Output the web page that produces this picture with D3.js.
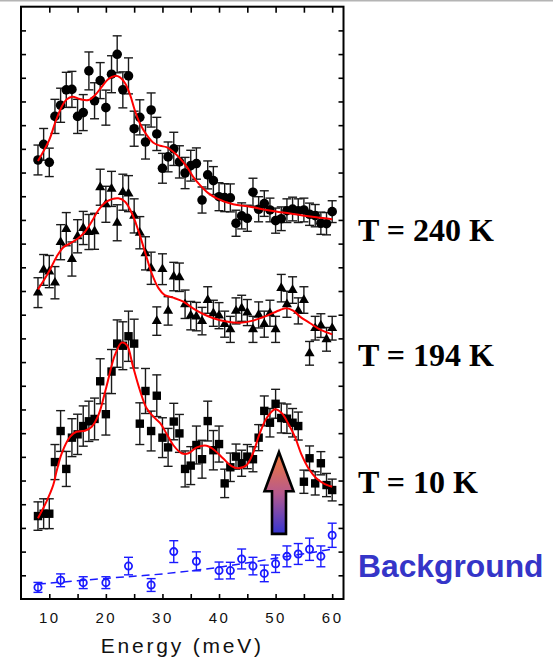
<!DOCTYPE html>
<html>
<head>
<meta charset="utf-8">
<script src="https://cdn.jsdelivr.net/npm/d3@7"></script>
<style>
  html, body { margin: 0; padding: 0; background: #fff; }
  svg { display: block; }
</style>
</head>
<body>
<svg id="chart" width="553" height="658"></svg>
<script>
// ---------------- DATA ----------------
const energies = [8,9,10,11,12,13,14,15,16,17,18,19,20,21,22,23,24,25,26,27,28,29,30,31,32,33,34,
  35,36,37,38,39,40,41,42,43,44,45,46,47,48,49,50,51,52,53,54,55,56,57,58,59,60];

const s240 = [18.53,19.19,18.43,20.37,20.84,21.49,21.51,20.37,20.53,22.29,21.03,21.88,20.74,22.15,22.99,21.49,22.08,
  19.85,20.33,19.29,20.64,19.63,18.18,18.66,19.0,18.45,17.98,18.29,18.38,16.84,17.90,17.66,16.98,16.94,16.93,
  15.86,16.17,16.07,17.17,16.45,16.69,16.42,15.97,16.05,16.39,16.46,16.39,16.42,16.24,16.18,15.86,15.84,16.35];
const e240 = [0.63,0.67,0.6,0.72,0.72,0.74,0.76,0.72,0.76,0.8,0.76,0.76,0.74,0.78,0.78,0.76,0.76,
  0.74,0.74,0.72,0.72,0.7,0.63,0.63,0.7,0.68,0.66,0.65,0.66,0.55,0.59,0.59,0.59,0.59,0.59,
  0.55,0.55,0.55,0.59,0.53,0.54,0.5,0.53,0.5,0.5,0.5,0.5,0.5,0.47,0.47,0.47,0.47,0.46];

const s194 = [12.93,13.89,13.82,13.35,15.06,15.61,14.35,15.31,15.66,15.49,15.52,17.38,16.66,17.31,15.88,17.17,17.11,
  16.17,15.46,14.59,13.96,11.73,13.92,12.16,13.61,13.58,12.44,11.96,11.92,11.73,12.62,12.06,11.96,11.6,11.38,
  12.16,12.27,12.09,11.38,11.99,11.6,12.06,11.38,13.12,12.44,13.04,12.16,12.62,10.37,11.43,11.54,10.96,11.43];
const e194 = [0.63,0.65,0.68,0.68,0.74,0.7,0.72,0.7,0.7,0.74,0.76,0.76,0.76,0.74,0.76,0.76,0.76,
  0.72,0.68,0.7,0.68,0.6,0.65,0.6,0.6,0.6,0.6,0.6,0.6,0.58,0.56,0.55,0.55,0.55,0.55,
  0.55,0.55,0.55,0.55,0.55,0.55,0.55,0.55,0.58,0.55,0.56,0.55,0.56,0.5,0.5,0.5,0.5,0.5];

const s10 = [3.5,3.6,3.6,5.78,7.09,5.49,6.81,6.95,7.3,7.5,7.6,9.19,7.8,9.6,10.78,10.69,11.09,
  10.78,7.4,8.78,7.09,8.58,6.81,6.4,7.49,6.99,5.49,5.63,6.5,5.9,7.51,6.28,6.54,4.88,5.56,
  6.01,5.73,6.01,5.9,6.81,7.94,7.44,8.24,7.64,7.61,7.44,7.3,4.95,5.94,4.88,5.73,4.81,4.6];
const e10 = [0.6,0.63,0.63,0.74,0.86,0.74,0.8,0.85,0.85,0.85,0.88,0.95,0.88,0.93,1.0,1.01,1.06,
  1.03,0.88,0.95,0.84,0.88,0.84,0.8,0.77,0.8,0.76,0.8,0.8,0.8,0.84,0.83,0.76,0.6,0.6,
  0.53,0.55,0.51,0.53,0.55,0.63,0.6,0.61,0.63,0.62,0.6,0.59,0.49,0.52,0.49,0.49,0.49,0.46];

const bgE   = [8,12,16,20,24,28,32,36,40,42,44,46,48,50,52,54,56,58,60];
const bgV   = [0.49,0.79,0.69,0.69,1.39,0.59,2.0,1.59,1.2,1.2,1.69,1.39,1.08,1.49,1.8,1.9,2.1,1.8,2.69];
const bgErr = [0.21,0.27,0.25,0.25,0.37,0.27,0.46,0.4,0.36,0.35,0.42,0.37,0.35,0.37,0.44,0.44,0.47,0.44,0.51];

// fitted curves
const fit240E = [8,10,11,12.2,13.1,14.1,15.4,16.9,18.1,19.3,20.4,21.6,22.5,23.4,24.3,25.1,26,27.2,28.4,29.6,30.7,
  31.9,33.1,34.3,35.4,36.6,38.1,39.6,42.5,45.5,48.4,51.3,54.3,57.2,60];
const fit240V = [18.49,19.38,20.08,20.78,21.09,21.2,21.1,21.06,21.27,21.63,21.94,22.08,22.02,21.77,21.27,20.64,20.08,
  19.59,19.26,19.13,19.07,18.88,18.6,18.25,17.83,17.48,17.13,16.91,16.66,16.56,16.42,16.31,16.21,16.11,16.03];

const fit194E = [8,8.9,10.1,11.3,12.5,13.7,15.1,16.3,17.5,18.7,20.1,22.2,23.4,24.6,25.7,26.9,28.1,29.3,30.4,31.9,
  33.7,35.4,37.2,39,41.3,43.7,46,48.4,50.8,51.9,53.1,54.3,56.1,57.8,60];
const fit194V = [13.07,13.4,13.89,14.45,14.85,15.01,15.23,15.5,15.93,16.42,16.77,16.91,16.77,16.28,15.58,14.66,13.75,
  13.12,12.83,12.72,12.55,12.27,12.03,11.85,11.71,11.66,11.75,11.95,12.2,12.27,12.17,11.92,11.64,11.38,11.17];

const fit10E = [8,9.5,10.7,11.3,12.2,13.7,14.8,16.3,17.5,18.7,20.1,21.6,22.8,23.7,24.8,26,27.2,28.4,29.6,30.7,31.9,
  33.4,34.6,36,37.8,39.3,40.7,42.2,43.4,44.9,46,47.2,48.4,49.9,51.1,52.2,53.4,54.6,55.8,57.2,58.7,60];
const fit10V = [3.41,4.11,4.81,5.4,6.15,6.85,7.06,7.1,7.27,7.77,8.96,10.3,10.82,10.72,9.81,8.82,8.05,7.7,7.42,6.99,6.5,
  6.15,6.15,6.39,6.47,6.26,5.94,5.61,5.52,5.66,6.15,6.99,7.63,8.01,7.84,7.42,6.85,6.08,5.52,5.1,4.85,4.74];

const bgFitE = [8,20,30,40,50,60];
const bgFitV = [0.63,0.87,1.06,1.34,1.72,2.1];

const xTicks = [10,15,20,25,30,35,40,45,50,55,60];
const xTickLabels = [10,20,30,40,50,60];
const yTicks = [1,2,3,4,5,6,7,8,9,10,11,12,13,14,15,16,17,18,19,20,21,22,23,24];
const xTitle = "Energy (meV)";
const seriesLabels = ["T = 240 K","T = 194 K","T = 10 K","Background"];

// ---------------- CHART ----------------
const svg = d3.select("#chart");
const L = 21, R = 343.5, T = 6.7, B = 599;
const x = d3.scaleLinear().domain([5, 62]).range([L, R]);
const y = d3.scaleLinear().domain([0, 25]).range([B, T]);

// gray line at very top
svg.append("rect").attr("x",0).attr("y",0).attr("width",553).attr("height",1.5).attr("fill","#b4b4b4");

// axes
const gB = svg.append("g").attr("transform",`translate(0,${B})`)
  .call(d3.axisBottom(x).tickValues(xTicks).tickSize(-5).tickPadding(13)
    .tickFormat(d => xTickLabels.includes(d) ? d : ""));
const gT = svg.append("g").attr("transform",`translate(0,${T})`)
  .call(d3.axisTop(x).tickValues(xTicks).tickSize(-6).tickFormat(""));
const gL = svg.append("g").attr("transform",`translate(${L},0)`)
  .call(d3.axisLeft(y).tickValues(yTicks).tickSize(-5).tickFormat(""));
const gR = svg.append("g").attr("transform",`translate(${R},0)`)
  .call(d3.axisRight(y).tickValues(yTicks).tickSize(-5).tickFormat(""));
[gB,gT,gL,gR].forEach(g => {
  g.select(".domain").remove();
  g.selectAll(".tick line").attr("stroke","#000").attr("stroke-width",1.6);
});
gB.selectAll(".tick text")
  .attr("font-family","'Liberation Sans', Arial, sans-serif")
  .attr("font-size",15).attr("letter-spacing","2.5px").attr("fill","#111");

// frame
svg.append("rect").attr("x",L).attr("y",T).attr("width",R-L).attr("height",B-T)
  .attr("fill","none").attr("stroke","#000").attr("stroke-width",2);

// x title
svg.append("text").attr("x",(L+R)/2).attr("y",653).attr("text-anchor","middle")
  .attr("font-family","'Liberation Sans', Arial, sans-serif").attr("font-size",21)
  .attr("letter-spacing","2.8px").attr("fill","#111").text(xTitle);

const plot = svg.append("g");

function errorBars(E, V, Err, color, width, cap) {
  const g = plot.append("g").attr("stroke",color).attr("stroke-width",width).attr("fill","none");
  E.forEach((e,i) => {
    const cx = x(e), y1 = y(V[i]+Err[i]), y0 = y(V[i]-Err[i]);
    g.append("line").attr("x1",cx).attr("x2",cx).attr("y1",y1).attr("y2",y0);
    g.append("line").attr("x1",cx-cap).attr("x2",cx+cap).attr("y1",y1).attr("y2",y1);
    g.append("line").attr("x1",cx-cap).attr("x2",cx+cap).attr("y1",y0).attr("y2",y0);
  });
}

errorBars(energies, s240, e240, "#1a1a1a", 1.4, 4.5);
errorBars(energies, s194, e194, "#1a1a1a", 1.4, 4.5);
errorBars(energies, s10,  e10,  "#1a1a1a", 1.4, 4.5);
errorBars(bgE, bgV, bgErr, "#1a1aff", 1.4, 4.5);

// markers
plot.append("g").selectAll("circle").data(energies).join("circle")
  .attr("cx", d => x(d)).attr("cy", (d,i) => y(s240[i])).attr("r",4.8).attr("fill","#000");

const tri = d3.symbol().type(d3.symbolTriangle).size(44);
plot.append("g").selectAll("path").data(energies).join("path")
  .attr("d", tri).attr("transform",(d,i) => `translate(${x(d)},${y(s194[i])})`).attr("fill","#000");

plot.append("g").selectAll("rect").data(energies).join("rect")
  .attr("x", d => x(d)-4.2).attr("y",(d,i) => y(s10[i])-4.2).attr("width",8.4).attr("height",8.4).attr("fill","#000");

plot.append("g").selectAll("circle").data(bgE).join("circle")
  .attr("cx", d => x(d)).attr("cy", (d,i) => y(bgV[i])).attr("r",3.6)
  .attr("fill","none").attr("stroke","#1a1aff").attr("stroke-width",1.8);

// fit lines
const line = d3.line().x(d => x(d[0])).y(d => y(d[1])).curve(d3.curveCatmullRom.alpha(0.5));
[[fit240E,fit240V],[fit194E,fit194V],[fit10E,fit10V]].forEach(([E,V]) => {
  plot.append("path").datum(E.map((e,i)=>[e,V[i]])).attr("d",line)
    .attr("fill","none").attr("stroke","#ff0000").attr("stroke-width",2);
});
plot.append("path").datum(bgFitE.map((e,i)=>[e,bgFitV[i]])).attr("d",line)
  .attr("fill","none").attr("stroke","#1a1aff").attr("stroke-width",1.5)
  .attr("stroke-dasharray","8,5");

// arrow
const defs = svg.append("defs");
const grad = defs.append("linearGradient").attr("id","arrowGrad")
  .attr("x1",0).attr("y1",0).attr("x2",0).attr("y2",1);
grad.append("stop").attr("offset","0%").attr("stop-color","#f27a35");
grad.append("stop").attr("offset","50%").attr("stop-color","#b85a8c");
grad.append("stop").attr("offset","100%").attr("stop-color","#3434d2");
const ax = x(50.6), tipY = y(6.2), headY = y(4.55), botY = y(2.75);
const hw = 14.5, bw = 7;
svg.append("path")
  .attr("d", `M${ax},${tipY} L${ax+hw},${headY} L${ax+bw},${headY} L${ax+bw},${botY} L${ax-bw},${botY} L${ax-bw},${headY} L${ax-hw},${headY} Z`)
  .attr("fill","url(#arrowGrad)").attr("stroke","#000").attr("stroke-width",2.6).attr("stroke-linejoin","miter");

// labels
const labY = [241, 366, 493];
seriesLabels.slice(0,3).forEach((t,i) => {
  svg.append("text").attr("x",358).attr("y",labY[i])
    .attr("font-family","'Liberation Serif', 'Times New Roman', serif").attr("font-weight","bold")
    .attr("font-size",32).attr("fill","#000").text(t);
});
svg.append("text").attr("x",358).attr("y",577)
  .attr("font-family","'Liberation Sans', Arial, sans-serif").attr("font-weight","bold")
  .attr("font-size",31.8).attr("fill","#3535c8").text(seriesLabels[3]);
</script>
</body>
</html>
